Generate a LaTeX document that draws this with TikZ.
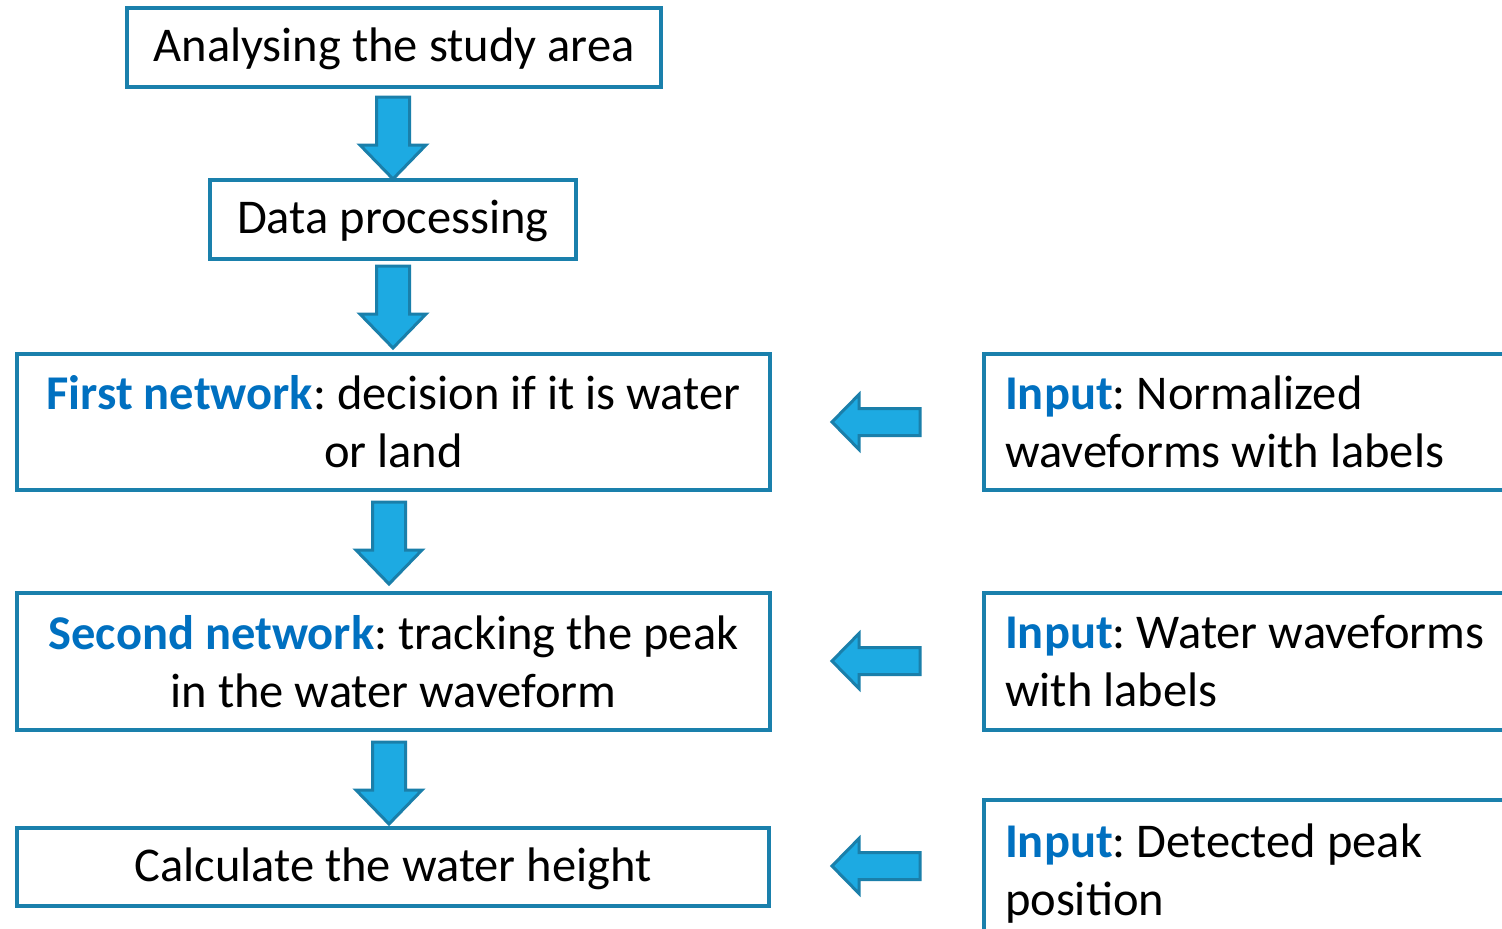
\documentclass[tikz,border=0pt]{standalone}
\usepackage{fontspec}
\setmainfont{Carlito}
\usetikzlibrary{calc}
\definecolor{boxline}{HTML}{1A80AC}
\definecolor{arrfill}{HTML}{1DAAE2}
\definecolor{arrline}{HTML}{1A7FAA}
\definecolor{hl}{HTML}{0070C0}
\newcommand{\hlt}[1]{\textcolor{hl}{\bfseries #1}}
\frenchspacing
\tikzset{
  box/.style={draw=boxline, line width=4pt, fill=white, inner sep=0pt, align=center,
    font=\fontsize{48.5}{58}\selectfont\frenchspacing},
  onebox/.style={box, text depth=5pt},
  inbox/.style={draw=boxline, line width=4pt, fill=white, inner xsep=21pt, inner ysep=0pt,
    align=flush left, text width=536pt, minimum width=578pt, font=\fontsize{48.5}{58}\selectfont\frenchspacing},
  blockarrow/.style={draw=arrline, fill=arrfill, line width=3pt, line join=miter}
}
\newcommand{\downarr}[1]{\draw[blockarrow, shift={(#1)}] (-16.5,0) -- (16.5,0) -- (16.5,48) -- (33,48) -- (0,82) -- (-33,48) -- (-16.5,48) -- cycle;}
\newcommand{\leftarr}[1]{\draw[blockarrow, shift={(#1)}] (0,0) -- (27,-27.5) -- (27,-13.5) -- (88,-13.5) -- (88,13.5) -- (27,13.5) -- (27,27.5) -- cycle;}
\begin{document}
\begin{tikzpicture}[x=1pt,y=-1pt]
\useasboundingbox (0,0) rectangle (1502,929);
\fill[white] (0,0) rectangle (1502,929);
\node[onebox, minimum width=534pt, minimum height=79pt] (b1) at (394,47.5) {Analysing the study area};
\node[onebox, minimum width=366pt, minimum height=79pt] (b2) at (393,219.5) {Data processing};
\node[box, minimum width=753pt, minimum height=136pt] (b3) at (393.5,422) {\hlt{First network}: decision if it is water\\or land};
\node[box, minimum width=753pt, minimum height=137pt] (b4) at (393.5,661.5) {\hlt{Second network}: tracking the peak\\in the water waveform};
\node[onebox, minimum width=752pt, minimum height=78pt] (b5) at (393,867) {Calculate the water height};
\node[inbox, minimum height=136pt, anchor=west] (r1) at (982,422) {\hlt{Input}: Normalized\\waveforms with labels};
\node[inbox, minimum height=137pt, anchor=west] (r2) at (982,661.5) {\hlt{Input}: Water waveforms\\with labels};
\node[inbox, minimum height=148pt, anchor=north west] (r3) at (982,798) {\hlt{Input}: Detected peak\\position};
\coordinate (d1) at ($(b1.south)+(-1,8)$);
\coordinate (d2) at ($(b2.south)+(0,5)$);
\coordinate (d3) at ($(b3.south)+(-4.5,10)$);
\coordinate (d4) at ($(b4.south)+(-4.5,10)$);
\downarr{d1}
\downarr{d2}
\downarr{d3}
\downarr{d4}
\coordinate (l1) at (832,422);
\coordinate (l2) at (832,661);
\coordinate (l3) at (832,866);
\leftarr{l1}
\leftarr{l2}
\leftarr{l3}
\end{tikzpicture}
\end{document}
